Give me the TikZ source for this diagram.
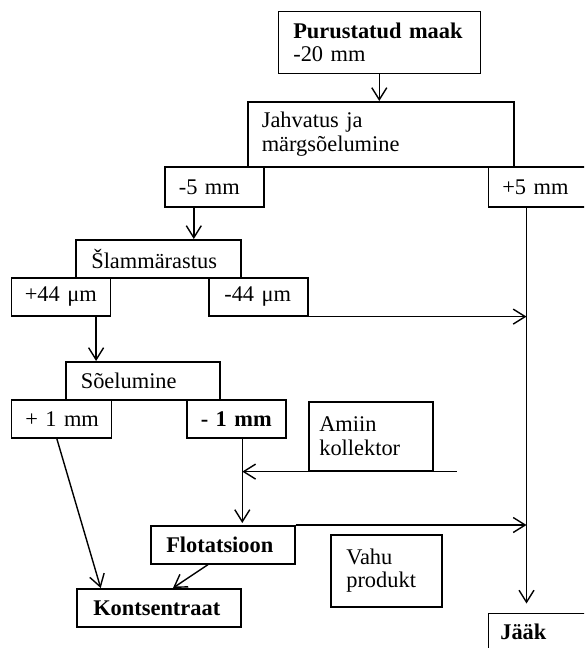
\documentclass[tikz,border=0pt]{standalone}
\usepackage{fontspec}
\setmainfont{Liberation Serif}
\usetikzlibrary{arrows.meta,calc}
\tikzset{
  blk/.style={draw, line width=1.6pt, anchor=north west, align=left,
    inner ysep=0pt, font=\fontsize{22.4}{23.5}\selectfont},
  arr/.style={line width=1.4pt, -{Straight Barb[length=12pt,width=15pt]}}
}

\begin{document}
\begin{tikzpicture}[x=1pt,y=-1pt]
  \clip (0,0) rectangle (584,648);
  % process boxes
  \node[blk, inner xsep=15pt, text width=172pt, minimum height=62pt] (maak) at (277.5,10.5)
    {\textbf{Purustatud maak}\\-20 mm};
  \node[blk, inner xsep=14pt, text width=238pt, minimum height=65pt] (jahv) at (247,101)
    {Jahvatus ja\\märgsõelumine};
  \node[blk, inner xsep=14pt, text width=71pt, minimum height=40pt] (m5) at (164,166) {-5~mm};
  \node[blk, inner xsep=14pt, text width=102pt, minimum height=40pt] (p5) at (487.5,166) {+5~mm};
  \node[blk, inner xsep=15.5pt, text width=134pt, minimum height=38pt] (slam) at (75,239) {Šlammärastus};
  \node[blk, inner xsep=13.5pt, text width=72pt, minimum height=38pt] (p44) at (10.5,277) {+44~μm};
  \node[blk, inner xsep=15.5pt, text width=68pt, minimum height=38pt] (m44) at (208,277) {-44~μm};
  \node[blk, inner xsep=15pt, text width=124pt, minimum height=38pt] (soel) at (65,361) {Sõelumine};
  \node[blk, inner xsep=14pt, text width=72pt, minimum height=38pt] (p1) at (10.5,399) {+~1~mm};
  \node[blk, inner xsep=14pt, text width=71pt, minimum height=38pt] (m1) at (186,399) {\textbf{-~1~mm}};
  \node[blk, inner xsep=10.5pt, text width=103pt, minimum height=69pt] (amiin) at (308,401)
    {Amiin\\kollektor};
  \node[blk, inner xsep=15.5pt, text width=113pt, minimum height=38pt] (flot) at (150,525) {\textbf{Flotatsioon}};
  \node[blk, inner xsep=15.5pt, text width=80pt, minimum height=72pt] (vahu) at (330,534)
    {Vahu\\produkt};
  \node[blk, inner xsep=16.5pt, text width=131pt, minimum height=38pt] (kont) at (76,588)
    {\textbf{Kontsentraat}};
  \node[blk, inner xsep=12pt, text width=106pt, minimum height=38pt] (jaak) at (487.5,612.5) {\textbf{Jääk}};

  % helper points
  \coordinate (trunk) at (526.5,0);
  \coordinate (drop) at ([xshift=6pt]m1.south);
  \coordinate (collend) at ([xshift=23pt]amiin.south east);

  % flows
  \draw[arr] (maak.south) -- (maak.south |- jahv.north);
  \draw[arr] ([xshift=-20.5pt]m5.south) -- ([xshift=-20.5pt]m5.south |- slam.north);
  \draw[arr] ([xshift=-15pt]p44.south east) -- ([xshift=-15pt]p44.south east |- soel.north);
  \draw[arr] (m44.south east) -- (m44.south east -| trunk);
  \draw[arr, shorten >=9pt] (p5.south -| trunk) -- (trunk |- jaak.north);
  \draw[arr] ([xshift=-4.5pt]p1.south) -- ([xshift=24.7pt]kont.north west);
  \draw[arr] (collend) -- (collend -| drop);
  \draw[arr, shorten >=2pt] (drop) -- (drop |- flot.north);
  \draw[arr] (flot.north east) -- (flot.north east -| trunk);
  \draw[arr] ([xshift=58pt]flot.south west) -- ([xshift=97pt]kont.north west);
\end{tikzpicture}
\end{document}
